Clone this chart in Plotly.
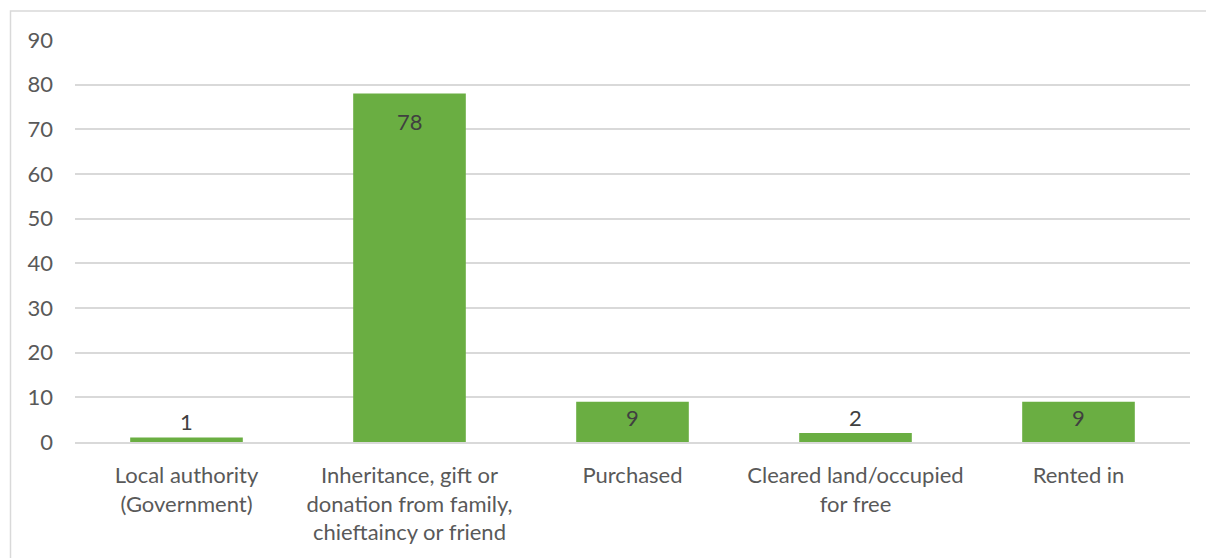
import plotly.graph_objects as go

categories = [
    "Local authority<br>(Government)",
    "Inheritance, gift or<br>donation from family,<br>chieftaincy or friend",
    "Purchased",
    "Cleared land/occupied<br>for free",
    "Rented in",
]
values = [1, 78, 9, 2, 9]
y_ticks = [0, 10, 20, 30, 40, 50, 60, 70, 80, 90]

FONT = "Lato, Carlito, 'Open Sans', sans-serif"
Y_MAX = 90
PLOT_H = 402  # plot-area height in px
PX_PER_UNIT = PLOT_H / Y_MAX

fig = go.Figure(
    go.Bar(
        x=categories,
        y=values,
        marker=dict(color="#6aae42", line=dict(width=0)),
        width=0.505,
        hoverinfo="x+y",
    )
)

# data labels: inside end for tall bars, outside end for short bars
annotations = []
for cat, v in zip(categories, values):
    bar_px = v * PX_PER_UNIT
    if bar_px >= 30:
        shift = -min(28, bar_px / 2 - 4)
    else:
        shift = 16
    annotations.append(
        dict(
            x=cat,
            y=v,
            xref="x",
            yref="y",
            text=str(v),
            showarrow=False,
            yshift=shift,
            yanchor="middle",
            font=dict(family=FONT, size=22, color="#404040"),
        )
    )

fig.update_layout(
    width=1206,
    height=558,
    margin=dict(l=75, r=16, t=40, b=116),
    paper_bgcolor="white",
    plot_bgcolor="white",
    showlegend=False,
    font=dict(family=FONT, size=22, color="#595959"),
    annotations=annotations,
    xaxis=dict(
        showgrid=False,
        showline=True,
        linecolor="#d9d9d9",
        linewidth=1.5,
        ticks="",
        ticklabelstandoff=13,
        tickfont=dict(family=FONT, size=22, color="#595959"),
        zeroline=False,
    ),
    yaxis=dict(
        range=[0, Y_MAX],
        tickvals=y_ticks,
        showgrid=True,
        gridcolor="#d9d9d9",
        gridwidth=1.5,
        zeroline=False,
        showline=False,
        ticks="",
        ticklabelstandoff=21,
        tickfont=dict(family=FONT, size=22, color="#595959"),
    ),
    shapes=[
        dict(
            type="rect",
            xref="paper",
            yref="paper",
            x0=(10.5 - 75) / 1115,
            x1=1.1,
            y0=-0.5,
            y1=(442 - 11) / 402,
            line=dict(color="#d9d9d9", width=1.5),
            fillcolor="rgba(0,0,0,0)",
            layer="below",
        )
    ],
    bargap=0.5,
)

fig.write_html("out.html")
